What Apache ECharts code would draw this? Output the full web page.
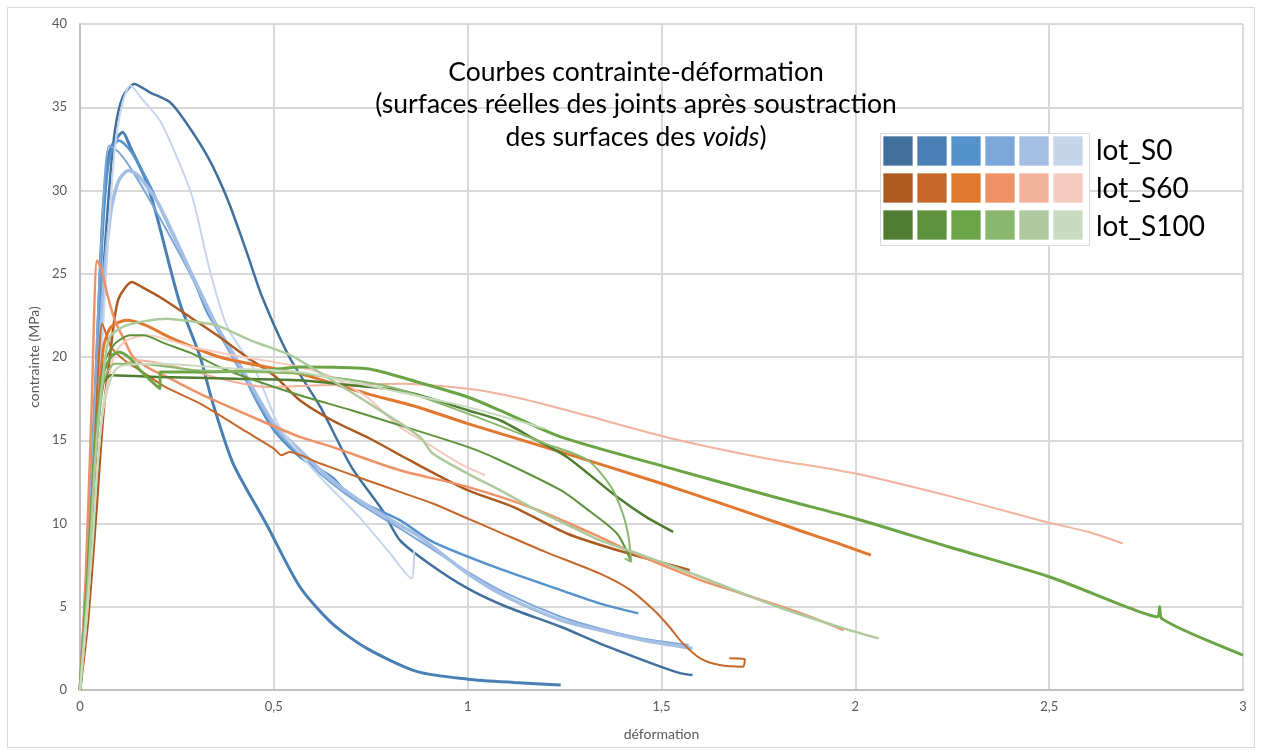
<!DOCTYPE html>
<html>
<head>
<meta charset="utf-8">
<script src="https://cdn.jsdelivr.net/npm/echarts@6/dist/echarts.min.js"></script>
<style>
  html, body { margin: 0; padding: 0; background: #fff; }
  #chart { width: 1262px; height: 755px; }
</style>
</head>
<body>
<div id="chart"></div>
<script>
// groupes et couleurs (légende)
const groupNames = ["lot_S0", "lot_S60", "lot_S100"]
const blueColors = ["#41709c", "#4a7fb4", "#5592cb", "#7ca7d9", "#a4bfe3", "#c5d5ec"]
const orangeColors = ["#ad5a21", "#c6672a", "#e2772f", "#ef9166", "#f2b29b", "#f6cbbf"]
const greenColors = ["#507d32", "#5f923c", "#6ba444", "#8ab76e", "#adc99d", "#c9dcbf"]
// épaisseur des traits (les essais bruités paraissent plus épais)
const blueWidths = [2.5, 3, 2.5, 2, 3.5, 2]
const orangeWidths = [2.5, 2, 3, 2.5, 2, 2]
const greenWidths = [2.5, 2, 3, 2, 2.5, 2]

const xTicks = [0, 0.5, 1, 1.5, 2, 2.5, 3]
const yTicks = [0, 5, 10, 15, 20, 25, 30, 35, 40]

// lot_S0 : [déformation, contrainte (MPa)]
const s0_1 = [[0,0],[0.02,7],[0.04,16],[0.06,25],[0.075,30],[0.09,33.6],[0.11,35.6],[0.14,36.4],[0.18,35.9],[0.232,35.3],[0.27,34.2],[0.33,32.0],[0.38,29.5],[0.43,26.3],[0.47,23.6],[0.54,20],[0.62,17],[0.7,13.4],[0.78,10.8],[0.825,9.0],[0.9,7.6],[1.0,6.1],[1.1,5.0],[1.24,3.8],[1.34,2.8],[1.44,1.9],[1.51,1.3],[1.55,1.0],[1.58,0.9]]
const s0_2 = [[0,0],[0.02,8],[0.04,18],[0.05,24],[0.06,29],[0.075,32.2],[0.09,33.0],[0.11,33.5],[0.13,32.6],[0.17,30.6],[0.2,28.3],[0.232,25.4],[0.258,23.2],[0.31,20],[0.343,17.2],[0.395,13.6],[0.48,10.0],[0.567,6.2],[0.65,4.0],[0.74,2.5],[0.87,1.1],[1.0,0.65],[1.12,0.45],[1.24,0.3]]
const s0_3 = [[0,0],[0.02,8],[0.04,18],[0.055,26],[0.07,31],[0.085,32.6],[0.1,33.0],[0.13,32.4],[0.18,30.3],[0.23,27.8],[0.284,25.2],[0.33,22.6],[0.396,20.2],[0.45,17.6],[0.5,15.6],[0.567,14.0],[0.65,12.8],[0.7,11.6],[0.825,10.2],[0.91,8.9],[1.08,7.3],[1.24,6.0],[1.34,5.2],[1.44,4.6]]
const s0_4 = [[0,0],[0.02,8],[0.04,19],[0.055,27],[0.075,32.7],[0.1,32.3],[0.14,31.0],[0.2,28.6],[0.284,25.0],[0.35,21.8],[0.42,18.9],[0.5,15.8],[0.567,14.1],[0.65,12.4],[0.72,11.2],[0.825,9.7],[0.9,8.6],[1.0,7.1],[1.1,5.8],[1.24,4.4],[1.34,3.7],[1.45,3.1],[1.57,2.7]]
const s0_5 = [[0,0],[0.02,7],[0.04,16],[0.06,24],[0.08,28.8],[0.1,30.6],[0.125,31.2],[0.15,30.9],[0.2,29.3],[0.284,25.2],[0.35,22],[0.42,19.2],[0.5,16],[0.567,14.4],[0.65,12.6],[0.72,11.4],[0.825,9.9],[0.87,9.3],[1.0,7.0],[1.1,5.6],[1.24,4.2],[1.34,3.6],[1.45,3.0],[1.58,2.5]]
const s0_6 = [[0,0],[0.02,6],[0.04,14],[0.06,22],[0.075,28],[0.09,32.5],[0.11,35.3],[0.13,36.3],[0.16,35.5],[0.206,34.2],[0.25,32],[0.29,29.6],[0.335,25.2],[0.38,21.8],[0.456,19.0],[0.51,16.0],[0.567,14.2],[0.627,12.6],[0.72,10.4],[0.8,8.2],[0.855,6.7],[0.862,8.4]]

// lot_S60
const s60_1 = [[0,0],[0.02,4],[0.04,10],[0.06,16.5],[0.077,20],[0.098,23.4],[0.134,24.5],[0.16,24.2],[0.206,23.6],[0.29,22.3],[0.36,21.2],[0.43,20.0],[0.5,18.9],[0.567,17.4],[0.65,16.2],[0.756,15.0],[0.85,13.8],[1.0,12.0],[1.117,11.0],[1.256,9.4],[1.4,8.3],[1.573,7.2]]
const s60_2 = [[0,0],[0.02,7],[0.04,16],[0.05,20.5],[0.057,22.0],[0.08,20.6],[0.12,19.7],[0.155,19.2],[0.22,18.2],[0.31,17.2],[0.43,15.5],[0.5,14.5],[0.52,14.1],[0.54,14.3],[0.62,13.6],[0.74,12.6],[0.825,11.9],[0.91,11.2],[1.0,10.3],[1.08,9.5],[1.2,8.3],[1.34,7.0],[1.42,6.0],[1.48,4.8],[1.52,3.8],[1.555,2.8],[1.6,1.9],[1.65,1.5],[1.71,1.4],[1.715,1.85],[1.675,1.9]]
const s60_3 = [[0,0],[0.02,6],[0.04,14],[0.06,20.5],[0.08,21.8],[0.12,22.2],[0.17,21.9],[0.23,21.2],[0.36,20.0],[0.48,19.4],[0.567,19.0],[0.74,17.8],[0.87,17.0],[1.0,16.0],[1.17,14.8],[1.24,14.3],[1.5,12.4],[1.68,11.0],[1.805,10.0],[1.86,9.55],[1.95,8.85],[2.04,8.1]]
const s60_4 = [[0,0],[0.015,7],[0.03,17],[0.044,25.8],[0.055,25.3],[0.07,23.8],[0.09,22.2],[0.115,21.0],[0.137,20.0],[0.18,19.3],[0.224,18.8],[0.327,17.6],[0.464,16.2],[0.567,15.2],[0.65,14.6],[0.825,13.2],[1.0,12.2],[1.17,10.9],[1.34,9.2],[1.43,8.2],[1.6,6.6],[1.68,6.0],[1.86,4.6],[1.97,3.6]]
const s60_5 = [[0,0],[0.02,5],[0.04,12],[0.06,16.8],[0.09,19.2],[0.15,19.8],[0.25,19.4],[0.38,18.6],[0.48,18.2],[0.62,18.3],[0.825,18.4],[1.0,18.1],[1.1,17.7],[1.256,16.8],[1.51,15.2],[1.75,14.0],[2.0,13.0],[2.25,11.6],[2.49,10.1],[2.6,9.5],[2.69,8.8]]
const s60_6 = [[0,0],[0.02,5],[0.04,12],[0.06,17],[0.09,20.2],[0.12,21.0],[0.17,21.3],[0.29,20.6],[0.42,20.0],[0.5,19.7],[0.567,19.4],[0.65,18.8],[0.74,17.6],[0.825,15.8],[0.91,14.6],[0.98,13.6],[1.045,12.9]]

// lot_S100
const s100_1 = [[0,0],[0.02,6],[0.04,14],[0.06,18.4],[0.08,18.9],[0.2,18.8],[0.4,18.7],[0.567,18.6],[0.7,18.3],[0.825,18.0],[0.92,17.4],[1.0,16.8],[1.083,16.2],[1.17,15.1],[1.256,14.0],[1.385,11.6],[1.46,10.4],[1.53,9.5]]
const s100_2 = [[0,0],[0.02,7],[0.04,15],[0.06,19.5],[0.09,20.8],[0.13,21.3],[0.163,21.3],[0.22,20.8],[0.29,20.2],[0.36,19.4],[0.45,18.6],[0.567,17.7],[0.7,16.8],[0.825,15.9],[1.0,14.6],[1.083,13.8],[1.24,12.0],[1.3,11.0],[1.385,9.4],[1.42,7.8]]
const s100_3 = [[0,0],[0.02,7],[0.04,15],[0.06,19],[0.08,20],[0.1,20.3],[0.13,19.9],[0.155,19.2],[0.206,18.1],[0.207,19.1],[0.3,19.1],[0.48,19.2],[0.567,19.4],[0.74,19.3],[0.87,18.5],[1.0,17.6],[1.083,16.8],[1.24,15.2],[1.51,13.4],[1.805,11.5],[2.0,10.3],[2.24,8.6],[2.5,6.8],[2.71,4.9],[2.78,4.4],[2.785,5.0],[2.79,4.3],[3.0,2.1]]
const s100_4 = [[0,0],[0.02,6],[0.04,14],[0.06,18.5],[0.09,19.6],[0.15,19.6],[0.3,19.2],[0.567,19.0],[0.8,18.2],[1.0,16.6],[1.2,14.8],[1.31,13.8],[1.37,12.2],[1.4,10.6],[1.415,9.2],[1.422,7.7],[1.405,7.9]]
const s100_5 = [[0,0],[0.02,6],[0.04,14],[0.06,19],[0.077,21.2],[0.12,21.9],[0.224,22.3],[0.3,22.1],[0.353,21.9],[0.44,21.0],[0.534,20.2],[0.567,19.8],[0.65,18.6],[0.74,17.3],[0.877,15.2],[0.91,14.2],[1.0,13.0],[1.083,12.0],[1.17,10.9],[1.25,10.0],[1.34,9.0],[1.45,8.1],[1.6,6.8],[1.8,5.0],[1.97,3.7],[2.06,3.1]]
const s100_6 = [[0,0],[0.03,8],[0.06,17],[0.1,19.4],[0.2,19.6],[0.4,19.3],[0.567,19.1],[0.74,18.3],[1.0,17.0],[1.2,15.7]]

const groups = [
    { name: groupNames[0], colors: blueColors, widths: blueWidths, curves: [s0_1, s0_2, s0_3, s0_4, s0_5, s0_6] },
    { name: groupNames[1], colors: orangeColors, widths: orangeWidths, curves: [s60_1, s60_2, s60_3, s60_4, s60_5, s60_6] },
    { name: groupNames[2], colors: greenColors, widths: greenWidths, curves: [s100_1, s100_2, s100_3, s100_4, s100_5, s100_6] },
]

const FONT = "Lato, 'Open Sans', sans-serif"
const fmt = (v) => String(v).replace(".", ",")

let series = []
groups.forEach((g) => {
    g.curves.forEach((curve, i) => {
        series.push({
            name: `${g.name}_${i + 1}`,
            type: "line",
            data: curve,
            showSymbol: false,
            smooth: 0.25,
            lineStyle: { color: g.colors[i], width: g.widths[i] },
            itemStyle: { color: g.colors[i] },
            animation: false,
        })
    })
})

// cadre, titre et légende en mosaïque
let graphics = [
    {
        type: "rect",
        shape: { x: 7.5, y: 7.5, width: 1247, height: 740 },
        style: { fill: null, stroke: "#d9d9d9", lineWidth: 1 },
        silent: true,
    },
    {
        type: "text",
        x: 636,
        y: 56,
        z: 10,
        style: {
            text: "Courbes contrainte-déformation\n(surfaces réelles des joints après soustraction\ndes surfaces des {i|voids})",
            font: `26.5px ${FONT}`,
            fill: "#000",
            textAlign: "center",
            lineHeight: 32.5,
            rich: { i: { fontStyle: "italic", fontSize: 26.5, fontFamily: FONT, lineHeight: 32.5 } },
        },
    },
    {
        type: "rect",
        z: 10,
        shape: { x: 880.5, y: 133.5, width: 209, height: 112 },
        style: { fill: "#fff", stroke: "#d9d9d9", lineWidth: 1 },
    },
]
groups.forEach((g, r) => {
    g.colors.forEach((c, k) => {
        graphics.push({
            type: "rect",
            z: 11,
            shape: { x: 883 + 34 * k, y: 136 + 37 * r, width: 30, height: 30 },
            style: { fill: c, stroke: "rgba(255,255,255,0.7)", lineWidth: 1 },
        })
    })
    graphics.push({
        type: "text",
        z: 11,
        x: 1096,
        y: 151 + 38 * r,
        style: { text: g.name, font: `28px ${FONT}`, fill: "#000", textVerticalAlign: "middle" },
    })
})

const chart = echarts.init(document.getElementById("chart"))
const option = {
    animation: false,
    backgroundColor: "#fff",
    grid: { left: 80, right: 19, top: 24, bottom: 65 },
    xAxis: {
        type: "value",
        min: xTicks[0],
        max: xTicks[xTicks.length - 1],
        interval: 0.5,
        name: "déformation",
        nameLocation: "middle",
        nameGap: 37,
        nameTextStyle: { color: "#595959", fontSize: 14, fontFamily: FONT },
        axisLine: { lineStyle: { color: "#bfbfbf", width: 2 } },
        axisTick: { show: false },
        axisLabel: { color: "#595959", fontSize: 13, fontFamily: FONT, margin: 10, formatter: fmt },
        splitLine: { lineStyle: { color: "#d9d9d9", width: 2 } },
    },
    yAxis: {
        type: "value",
        min: yTicks[0],
        max: yTicks[yTicks.length - 1],
        interval: 5,
        name: "contrainte (MPa)",
        nameLocation: "middle",
        nameGap: 37,
        nameTextStyle: { color: "#595959", fontSize: 14, fontFamily: FONT },
        axisLine: { show: true, lineStyle: { color: "#bfbfbf", width: 2 } },
        axisTick: { show: false },
        axisLabel: { color: "#595959", fontSize: 13, fontFamily: FONT, margin: 13 },
        splitLine: { lineStyle: { color: "#d9d9d9", width: 2 } },
    },
    series: series,
    graphic: graphics,
}
option && chart.setOption(option)
</script>
</body>
</html>
